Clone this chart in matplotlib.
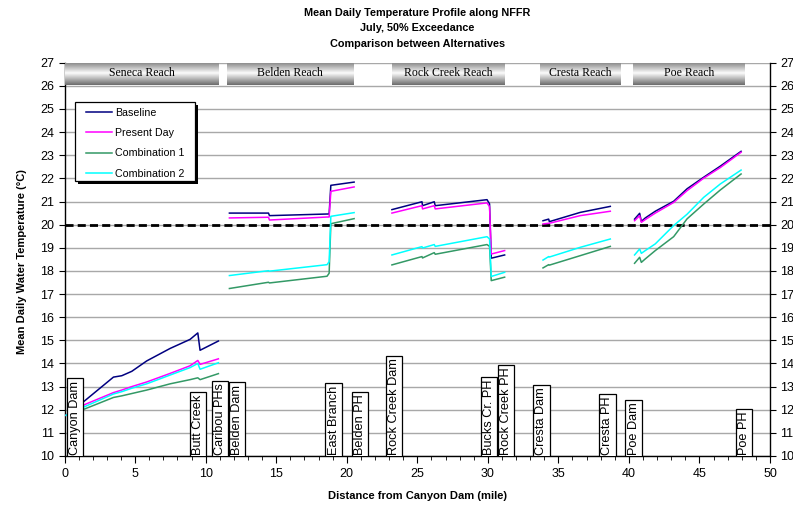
import numpy as np
import matplotlib
matplotlib.use("Agg")
import matplotlib.pyplot as plt
from matplotlib.patches import Rectangle

plt.rcParams['font.family'] = ['Liberation Sans', 'DejaVu Sans']

# river mile / temperature profiles, one block per reach
seneca_x = [0.1, 1.45, 3.46, 4.05, 4.76, 5.82, 7.48, 8.89, 9.44, 9.6, 10.9]
seneca_base = [11.76, 12.4, 13.41, 13.47, 13.66, 14.11, 14.65, 15.04, 15.32, 14.57, 14.97]
seneca_pres = [11.76, 12.23, 12.74, 12.85, 13.0, 13.2, 13.57, 13.9, 14.13, 13.96, 14.2]
seneca_c1 = [11.76, 12.04, 12.53, 12.6, 12.7, 12.85, 13.12, 13.3, 13.38, 13.3, 13.56]
seneca_c2 = [11.76, 12.14, 12.68, 12.78, 12.93, 13.12, 13.5, 13.82, 14.0, 13.75, 14.03]

belden_x = [11.68, 14.45, 14.52, 18.6, 18.75, 18.87, 20.52]
belden_base = [20.5, 20.5, 20.39, 20.46, 20.46, 21.7, 21.84]
belden_pres = [20.29, 20.32, 20.2, 20.33, 20.33, 21.44, 21.63]
belden_c1 = [17.24, 17.51, 17.48, 17.77, 17.9, 20.04, 20.26]
belden_c2 = [17.8, 18.01, 17.99, 18.27, 18.4, 20.36, 20.52]

rock_x = [23.2, 25.33, 25.37, 26.2, 26.27, 29.94, 30.12, 30.24, 31.19]
rock_base = [20.65, 20.99, 20.82, 20.99, 20.82, 21.08, 20.9, 18.55, 18.69]
rock_pres = [20.5, 20.82, 20.68, 20.82, 20.68, 20.94, 20.78, 18.73, 18.88]
rock_c1 = [18.26, 18.62, 18.56, 18.79, 18.72, 19.14, 19.06, 17.58, 17.73]
rock_c2 = [18.69, 19.05, 18.99, 19.14, 19.06, 19.48, 19.38, 17.76, 17.94]

cresta_x = [33.91, 34.31, 34.36, 36.55, 38.68]
cresta_base = [20.17, 20.24, 20.13, 20.53, 20.79]
cresta_pres = [20.03, 20.06, 20.06, 20.39, 20.58]
cresta_c1 = [18.13, 18.27, 18.25, 18.66, 19.06]
cresta_c2 = [18.47, 18.62, 18.6, 19.02, 19.38]

poe_x = [40.4, 40.76, 40.88, 41.16, 41.87, 43.17, 44.12, 45.3, 46.48, 47.95]
poe_base = [20.24, 20.49, 20.14, 20.29, 20.58, 21.01, 21.55, 22.05, 22.53, 23.17]
poe_pres = [20.17, 20.39, 20.1, 20.22, 20.5, 20.96, 21.47, 22.01, 22.47, 23.13]
poe_c1 = [18.33, 18.59, 18.37, 18.52, 18.88, 19.48, 20.25, 20.89, 21.5, 22.19]
poe_c2 = [18.69, 18.95, 18.76, 18.88, 19.17, 19.96, 20.45, 21.18, 21.76, 22.36]

reach_names = ["Seneca Reach", "Belden Reach", "Rock Creek Reach", "Cresta Reach", "Poe Reach"]
reach_start = [0.05, 11.5, 23.2, 33.7, 40.3]
reach_end = [10.9, 20.5, 31.2, 39.4, 48.2]

site_names = ["Canyon Dam", "Butt Creek", "Caribou PHs", "Belden Dam", "East Branch",
              "Belden PH", "Rock Creek Dam", "Bucks Cr. PH", "Rock Creek PH",
              "Cresta Dam", "Cresta PH", "Poe Dam", "Poe PH"]
site_miles = [0.74, 9.47, 11.02, 12.2, 19.07, 20.93, 23.36, 30.08, 31.29,
              33.8, 38.48, 40.33, 48.16]

criterion = 20.0

series = [
    ("Baseline", "#000080", [seneca_base, belden_base, rock_base, cresta_base, poe_base]),
    ("Present Day", "#FF00FF", [seneca_pres, belden_pres, rock_pres, cresta_pres, poe_pres]),
    ("Combination 1", "#339966", [seneca_c1, belden_c1, rock_c1, cresta_c1, poe_c1]),
    ("Combination 2", "#00FFFF", [seneca_c2, belden_c2, rock_c2, cresta_c2, poe_c2]),
]
reach_x = [seneca_x, belden_x, rock_x, cresta_x, poe_x]

fig = plt.figure(figsize=(7.93, 5.07), dpi=100)
ax = fig.add_axes([0.0815, 0.1006, 0.8895, 0.7757])

for name, color, ys in series:
    for i, (xs, yv) in enumerate(zip(reach_x, ys)):
        ax.plot(xs, yv, color=color, lw=1.1, zorder=4,
                label=name if i == 0 else None)

ax.axhline(criterion, color="black", lw=2, ls=(0, (2.9, 1.5)), zorder=3)

# shaded reach banners along the top
shade = np.concatenate([np.linspace(0.55, 0.98, 45), np.linspace(0.98, 0.42, 55)])
shade = shade.reshape(-1, 1)
for name, x0, x1 in zip(reach_names, reach_start, reach_end):
    ax.imshow(shade, extent=[x0, x1, 26.05, 27], aspect="auto", cmap="gray",
              vmin=0, vmax=1, zorder=3, interpolation="bilinear")
    ax.text((x0 + x1) / 2, 26.55, name, ha="center", va="center",
            family="Liberation Serif", fontsize=8.5, zorder=5)

# site markers along the bottom
for name, m in zip(site_names, site_miles):
    ax.text(m, 10.06, name, rotation=90, ha="center", va="bottom", fontsize=9.2,
            zorder=5, clip_on=True,
            bbox=dict(boxstyle="square,pad=0.17", fc="white", ec="black", lw=0.9))

ax.set_xlim(0, 50)
ax.set_ylim(10, 27)
ax.set_xticks(np.arange(0, 51, 5))
ax.set_xticks(np.arange(0, 51, 1), minor=True)
ax.set_yticks(np.arange(10, 28, 1))
ax.yaxis.grid(True, color="#a8a8a8", lw=1.0, zorder=1)
ax.set_axisbelow(True)
ax.tick_params(axis="y", which="both", direction="out", length=4, right=True,
               labelright=True, labelsize=9)
ax.tick_params(axis="x", which="major", direction="out", length=5, labelsize=9)
ax.tick_params(axis="x", which="minor", direction="out", length=3)
ax.spines["top"].set_visible(False)
for s in ["left", "right", "bottom"]:
    ax.spines[s].set_linewidth(1.0)

# legend box with a hard drop shadow
ax.add_patch(Rectangle((0.0147 + 0.0042, 0.70 - 0.0076), 0.170, 0.2008,
                       transform=ax.transAxes, fc="black", ec="none", zorder=6))
ax.add_patch(Rectangle((0.0147, 0.70), 0.170, 0.2008, transform=ax.transAxes,
                       fc="white", ec="black", lw=0.9, zorder=7))
leg = ax.legend(loc="upper left", bbox_to_anchor=(0.031, 0.886), fontsize=7.7,
                frameon=False, handlelength=2.35, handletextpad=0.3,
                labelspacing=0.97, borderpad=0, borderaxespad=0)
leg.set_zorder(8)

fig.text(0.526, 0.974, "Mean Daily Temperature Profile along NFFR", ha="center",
         va="center", fontsize=7.8, fontweight="bold")
fig.text(0.526, 0.944, "July, 50% Exceedance", ha="center", va="center",
         fontsize=7.8, fontweight="bold")
fig.text(0.526, 0.914, "Comparison between Alternatives", ha="center", va="center",
         fontsize=7.8, fontweight="bold")
fig.text(0.526, 0.021, "Distance from Canyon Dam (mile)", ha="center", va="center",
         fontsize=8, fontweight="bold")
fig.text(0.028, 0.485, "Mean Daily Water Temperature (\u00b0C)", ha="center",
         va="center", rotation=90, fontsize=8, fontweight="bold")

fig.savefig("out.png", dpi=100)
